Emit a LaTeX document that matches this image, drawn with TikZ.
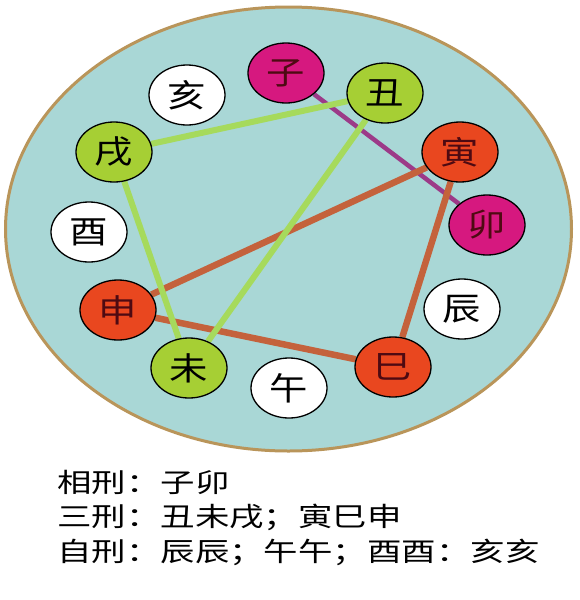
\documentclass[tikz,border=0pt]{standalone}
\usepackage{fontspec}
\newfontfamily\cjk{Noto Sans CJK SC}
\usetikzlibrary{shapes.geometric}
\pgfdeclarelayer{back}
\pgfdeclarelayer{links}
\pgfsetlayers{back,links,main}
\definecolor{sea}{HTML}{A9D7D6}
\definecolor{rim}{HTML}{B9955A}
\definecolor{cmag}{HTML}{D6187F}
\definecolor{cgreen}{HTML}{A6CF34}
\definecolor{cred}{HTML}{E9471F}
\definecolor{cdark}{HTML}{4E0A12}
\definecolor{lgreen}{HTML}{A6DA5C}
\definecolor{lbrown}{HTML}{C4623C}
\definecolor{lpurple}{HTML}{9C3A88}
\newcommand\circtext[1]{\scalebox{1.2}[1]{#1}}
\newcommand\legtext[1]{\scalebox{1.3}[1]{#1}}
\begin{document}
\begin{tikzpicture}[x=1pt,y=-1pt,
  branch/.style={ellipse, draw=black, line width=1.3pt, minimum width=76pt,
    minimum height=60pt, inner sep=0pt, font=\cjk\fontsize{32}{32}\selectfont},
  magbr/.style={branch, fill=cmag, text=cdark},
  greenbr/.style={branch, fill=cgreen, text=black},
  redbr/.style={branch, fill=cred, text=cdark},
  whitebr/.style={branch, fill=white, text=black},
  glink/.style={draw=lgreen, line width=6pt},
  blink/.style={draw=lbrown, line width=6.5pt},
  plink/.style={draw=lpurple, line width=4.5pt},
  legend/.style={anchor=west, inner sep=0pt, font=\cjk\fontsize{26.5}{26.5}\selectfont, text=black}
]
\useasboundingbox (0,0) rectangle (580,600);
\begin{pgfonlayer}{back}
  \fill[white] (0,0) rectangle (580,600);
  \draw[draw=rim, line width=3pt, fill=sea] (288.5,229) ellipse [x radius=283pt, y radius=222pt];
\end{pgfonlayer}

\node[magbr]   (zi)   at (286,73)  {\circtext{子}};
\node[greenbr] (chou) at (385,93)  {\circtext{丑}};
\node[redbr]   (yin)  at (460,152) {\circtext{寅}};
\node[magbr]   (mao)  at (487,225) {\circtext{卯}};
\node[whitebr] (chen) at (462,309) {\circtext{辰}};
\node[redbr]   (si)   at (393,367) {\circtext{巳}};
\node[whitebr] (wu)   at (289,388) {\circtext{午}};
\node[greenbr] (wei)  at (189,368) {\circtext{未}};
\node[redbr]   (shen) at (118,310) {\circtext{申}};
\node[whitebr] (you)  at (89,232)  {\circtext{酉}};
\node[greenbr] (xu)   at (114,152) {\circtext{戌}};
\node[whitebr] (hai)  at (187,95)  {\circtext{亥}};

\begin{pgfonlayer}{links}
  \draw[plink] (zi) -- (mao);
  \draw[blink] (yin) -- (shen);
  \draw[blink] (yin) -- (si);
  \draw[blink] (shen) -- (si);
  \draw[glink] (chou) -- (xu);
  \draw[glink] (chou) -- (wei);
  \draw[glink] (xu) -- (wei);
\end{pgfonlayer}

\node[legend] (l1) at (57,482) {\legtext{相刑：子卯}};
\node[legend] (l2) at (57,517) {\legtext{三刑：丑未戌；寅巳申}};
\node[legend] (l3) at (57,552) {\legtext{自刑：辰辰；午午；酉酉：亥亥}};
\end{tikzpicture}
\end{document}
